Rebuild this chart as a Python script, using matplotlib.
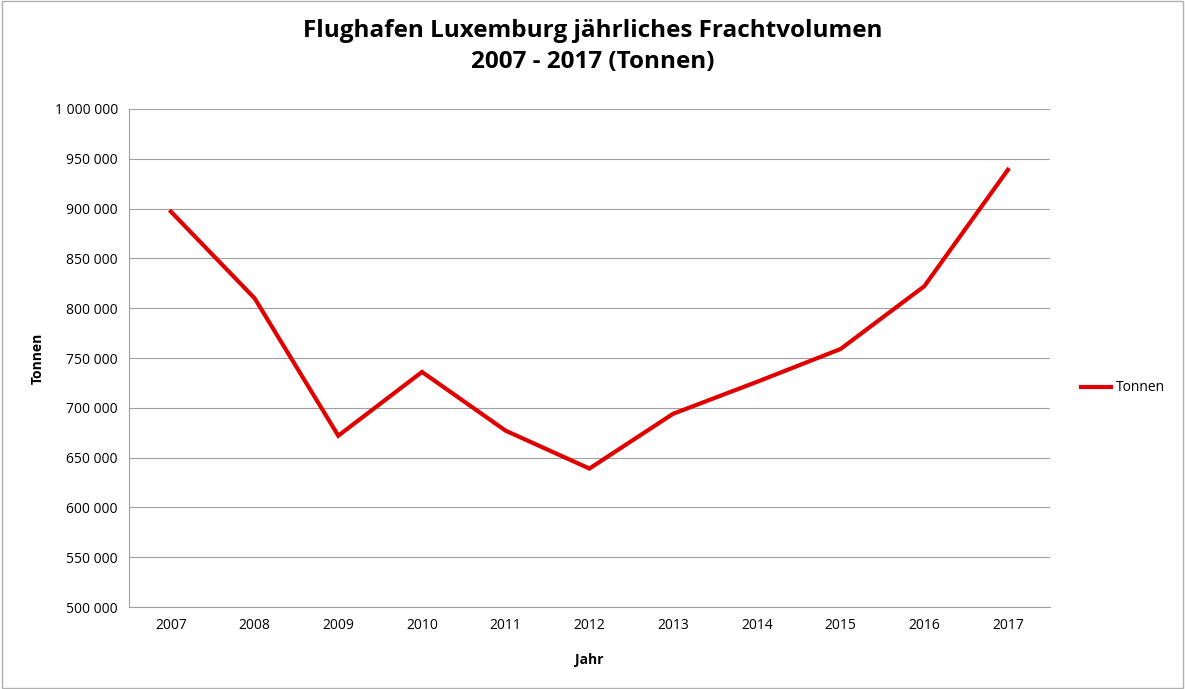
import matplotlib.pyplot as plt
from matplotlib.ticker import FuncFormatter

years = ["2007", "2008", "2009", "2010", "2011", "2012", "2013", "2014", "2015", "2016", "2017"]
tonnen = [897000, 810000, 672000, 736000, 677000, 639000, 694000, 726000, 759000, 822000, 939000]

plt.rcParams["font.family"] = "Open Sans"

fig = plt.figure(figsize=(11.85, 6.89), dpi=100)
ax = fig.add_axes([0.1089, 0.119, 0.777, 0.7228])

x = list(range(len(years)))
ax.plot(x, tonnen, color="#e00000", linewidth=3, label="Tonnen", solid_joinstyle="miter")

ax.set_xlim(-0.5, len(years) - 0.5)
ax.set_ylim(500000, 1000000)
ax.set_yticks(range(500000, 1000001, 50000))
ax.yaxis.set_major_formatter(FuncFormatter(lambda v, p: f"{int(v):,}".replace(",", " ")))
ax.set_xticks(x)
ax.set_xticklabels(years)
ax.tick_params(axis="both", length=0, labelsize=10, pad=8)
ax.grid(axis="y", color="#a0a0a0", linewidth=0.8)
ax.set_axisbelow(True)
for s in ["top", "right"]:
    ax.spines[s].set_visible(False)
ax.spines["left"].set_color("#a0a0a0")
ax.spines["bottom"].set_color("#a0a0a0")

ax.set_xlabel("Jahr", fontsize=10, fontweight="bold", labelpad=14)
ax.set_ylabel("Tonnen", fontsize=10, fontweight="bold", labelpad=7)

fig.suptitle("Flughafen Luxemburg jährliches Frachtvolumen\n2007 - 2017 (Tonnen)",
             fontsize=17.5, fontweight="bold", y=0.972, linespacing=1.35)

ax.legend(loc="center left", bbox_to_anchor=(1.02, 0.44), frameon=False,
          fontsize=10, handlelength=2.2, handletextpad=0.3)

fig.patches.append(plt.Rectangle((0.002, 0.002), 0.996, 0.996, transform=fig.transFigure,
                                 fill=False, edgecolor="#b0b0b0", linewidth=1))

fig.savefig("out.png", dpi=100)
